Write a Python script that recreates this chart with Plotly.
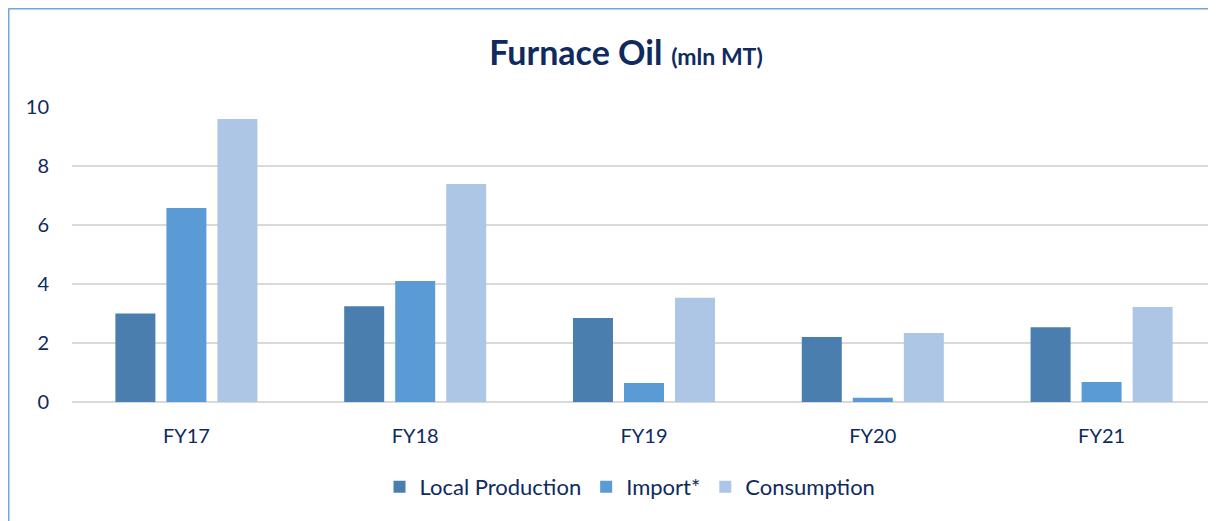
import plotly.graph_objects as go

categories = ["FY17", "FY18", "FY19", "FY20", "FY21"]
local_production = [3.0, 3.25, 2.85, 2.2, 2.53]
imports = [6.58, 4.1, 0.64, 0.14, 0.68]
consumption = [9.59, 7.39, 3.53, 2.34, 3.22]
series_names = ["Local Production", "Import*", "Consumption"]
colors = ["#4A7EAF", "#5B9BD5", "#ADC6E5"]
y_ticks = [0, 2, 4, 6, 8, 10]

# the page body has an 8px margin, so the figure is drawn 8px in from the window edge
W, H = 1208, 513
ML, MR, MT, MB = 64, 0, 99, 119
PW, PH = W - ML - MR, H - MT - MB
navy = "#0E2A5E"
font_family = "Lato, 'Open Sans', sans-serif"

fig = go.Figure()
for name, vals, col in zip(series_names, [local_production, imports, consumption], colors):
    fig.add_trace(go.Bar(x=categories, y=vals, name=name, marker=dict(color=col, line=dict(width=0))))

def px_x(p):
    return (p - ML) / PW

def px_y(p):
    return (H - MB - p) / PH

border_col = "#6FA6DC"
fig.add_shape(type="line", xref="paper", yref="paper", x0=px_x(0.5), x1=px_x(1230), y0=px_y(0.5), y1=px_y(0.5),
              line=dict(color=border_col, width=2))
fig.add_shape(type="line", xref="paper", yref="paper", x0=px_x(0.5), x1=px_x(0.5), y0=px_y(0.5), y1=px_y(540),
              line=dict(color=border_col, width=2))

fig.update_layout(
    width=W, height=H,
    margin=dict(l=ML, r=MR, t=MT, b=MB),
    paper_bgcolor="white", plot_bgcolor="white",
    font=dict(family=font_family, color=navy, size=20),
    title=dict(text="<b>Furnace Oil</b> <b><span style='font-size:23px'>(mln MT)</span></b>",
               x=618 / W, xanchor="center", xref="container",
               y=1 - 45 / H, yanchor="middle", yref="container",
               font=dict(size=34, color=navy, family=font_family)),
    barmode="group", bargap=0.331, bargroupgap=0.216,
    showlegend=True,
    legend=dict(orientation="h", x=px_x(622), xanchor="center", y=px_y(479), yanchor="middle",
                font=dict(size=22, color=navy), itemsizing="constant", traceorder="normal",
                itemwidth=30),
    xaxis=dict(showgrid=False, showline=False, ticks="", tickfont=dict(size=20, color=navy),
               ticklabelstandoff=20),
    yaxis=dict(range=[0, 10], tickvals=y_ticks, showgrid=True, gridcolor="#D9D9D9", gridwidth=2,
               zeroline=True, zerolinecolor="#D9D9D9", zerolinewidth=2, showline=False, ticks="",
               tickfont=dict(size=20, color=navy), ticklabelstandoff=22),
)

fig.write_html("out.html")
